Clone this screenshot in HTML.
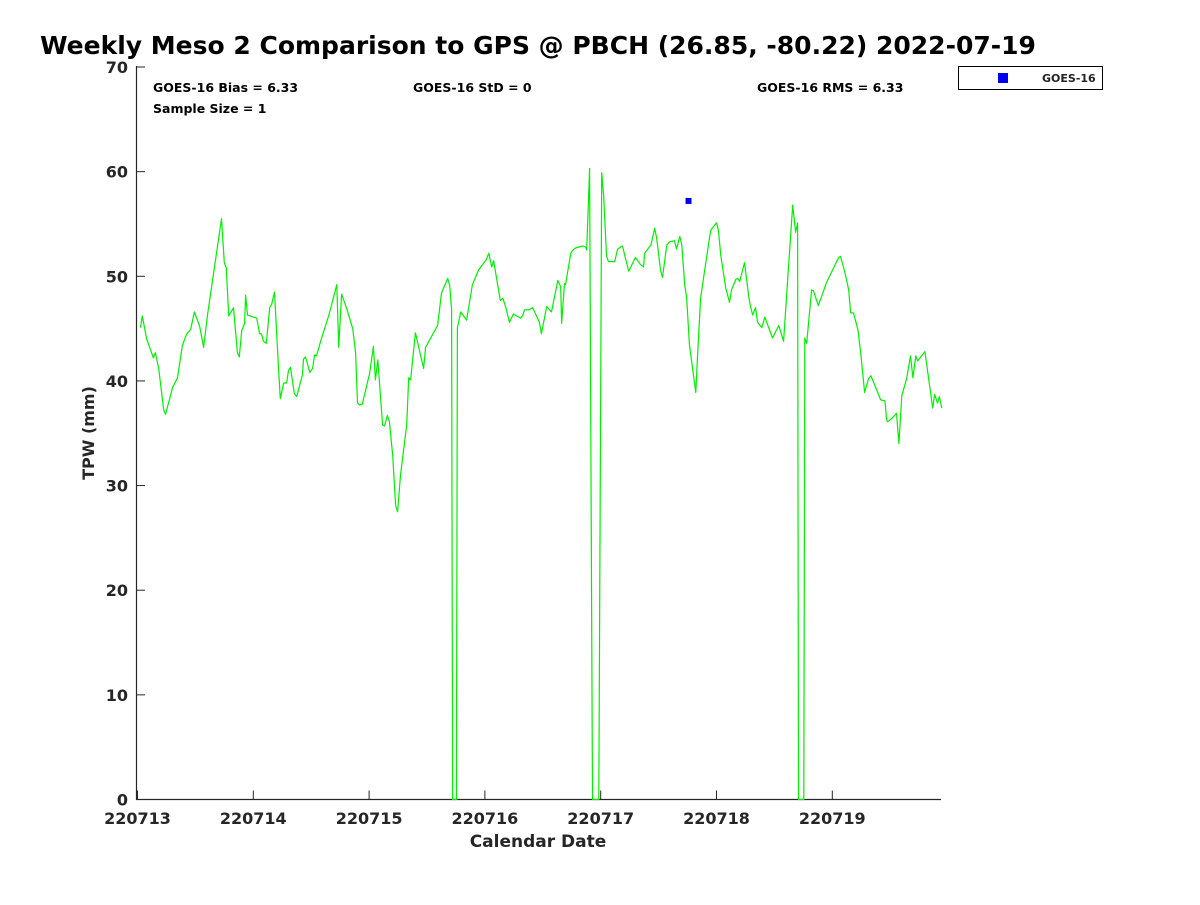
<!DOCTYPE html>
<html><head><meta charset="utf-8"><style>
body{margin:0;background:#fff;width:1200px;height:900px;overflow:hidden}
svg{font-family:"DejaVu Sans","Liberation Sans",sans-serif;font-weight:bold}
</style></head><body>
<svg id="chart" width="1200" height="900" viewBox="0 0 1200 900">
<text x="40" y="54" font-size="25" fill="#000">Weekly Meso 2 Comparison to GPS @ PBCH (26.85, -80.22) 2022-07-19</text>
<g id="axes"></g>
<g id="series"></g>
<text x="153" y="92" font-size="12.5" fill="#000">GOES-16 Bias = 6.33</text>
<text x="413" y="92" font-size="12.5" fill="#000">GOES-16 StD = 0</text>
<text x="757" y="92" font-size="12.5" fill="#000">GOES-16 RMS = 6.33</text>
<text x="153" y="113" font-size="12.5" fill="#000">Sample Size = 1</text>
<g>
<rect x="958.5" y="66.5" width="144" height="23" fill="#fff" stroke="#000" stroke-width="1"/>
<rect x="998" y="73" width="10" height="10" fill="#0000ee"/>
<text x="1042" y="82" font-size="11" fill="#222">GOES-16</text>
</g>
<text x="538" y="847" font-size="17" text-anchor="middle" fill="#262626">Calendar Date</text>
<text transform="translate(94,433) rotate(-90)" font-size="16" text-anchor="middle" fill="#262626">TPW (mm)</text>
</svg>
<script>
const hours=[0.6,1.0,1.9,3.3,3.7,4.4,5.4,5.8,7.3,8.3,9.3,10.2,11.0,11.8,12.9,13.7,14.5,17.4,18.0,18.4,18.9,19.9,20.7,21.1,21.6,22.2,22.4,22.8,24.0,24.7,25.3,25.7,26.1,26.7,27.4,27.8,28.4,29.2,29.6,30.3,30.9,31.3,31.7,32.5,33.0,34.2,34.4,34.8,35.2,35.7,36.3,36.7,37.1,38.1,39.6,41.3,41.7,42.3,43.3,44.6,45.2,45.6,46.0,46.6,48.1,48.9,49.3,49.8,50.8,51.2,51.8,52.2,52.9,53.5,53.9,54.5,55.8,56.2,56.6,57.6,59.3,59.7,60.3,62.2,63.0,64.3,64.7,65.1,65.3,66.1,66.3,67.0,68.2,69.4,70.7,72.3,72.8,73.4,73.8,75.2,75.7,76.3,77.1,77.9,79.4,79.8,80.2,81.1,81.9,83.3,83.7,84.8,85.8,87.1,87.7,87.9,88.5,88.7,89.8,90.2,90.8,92.3,92.9,93.1,93.7,94.3,95.6,96.2,96.6,97.2,97.6,98.9,99.5,100.5,101.8,103.2,104.3,104.9,105.1,106.4,107.2,107.6,108.4,108.8,109.7,110.3,111.3,111.7,112.4,112.8,113.4,113.8,114.4,115.7,116.1,116.7,117.5,118.8,120.0,120.4,120.9,121.9,122.7,123.1,124.0,124.4,124.8,125.8,126.7,127.1,127.5,128.1,128.5,129.4,130.0,131.6,132.9,133.9,134.7,135.8,136.4,136.8,137.0,138.1,138.3,138.7,139.7,140.1,141.1,141.8,142.8,145.3,145.7,146.6,147.4,147.8,148.4,149.3,149.9,150.7,151.5,152.0,153.4,154.0,154.9,155.3,155.5,156.3,157.3,157.8,158.4,159.4,160.2,160.7,161.3,161.7,163.2,164.8,165.2,165.8,166.2,166.7];
const tpw=[45.1,46.2,44.0,42.2,42.7,41.2,37.3,36.8,39.4,40.3,43.4,44.5,44.9,46.6,45.2,43.2,46.3,55.5,51.3,50.8,46.2,47.0,42.7,42.3,44.8,45.5,48.2,46.3,46.1,46.0,44.5,44.5,43.8,43.6,47.0,47.3,48.5,41.4,38.3,39.8,39.8,41.0,41.3,38.8,38.5,40.6,42.1,42.3,41.7,40.8,41.2,42.5,42.4,44.0,46.2,49.2,43.2,48.3,47.0,45.0,42.7,37.9,37.7,37.8,40.7,43.3,40.1,42.0,35.8,35.7,36.7,36.1,32.9,28.1,27.5,31.0,35.8,40.3,40.1,44.6,41.2,43.2,43.7,45.3,48.4,49.8,49.1,46.8,0,0,45.1,46.6,45.8,49.2,50.6,51.6,52.2,50.9,51.5,47.7,47.9,47.1,45.6,46.4,46.0,46.2,46.8,46.8,47.0,45.6,44.5,47.1,46.6,49.6,49.0,45.5,49.3,49.2,52.2,52.5,52.7,52.9,52.8,52.5,60.3,0,0,59.9,57.8,52.0,51.4,51.4,52.6,52.9,50.5,51.8,51.1,50.9,52.2,53.0,54.6,53.6,50.6,49.9,53.0,53.3,53.4,52.6,53.8,53.0,49.2,48.0,43.4,38.9,42.7,47.9,50.4,54.4,55.1,54.4,52.0,48.9,47.5,48.7,49.7,49.8,49.5,51.3,48.0,47.0,46.3,47.0,45.6,45.1,46.1,44.1,45.3,43.8,49.3,56.8,54.2,55.1,0,0,44.1,43.6,48.7,48.6,47.2,48.1,49.4,51.8,51.9,50.4,48.7,46.5,46.5,44.9,42.6,38.9,40.2,40.5,38.9,38.2,38.1,36.2,36.1,36.4,36.9,34.0,38.6,40.2,42.4,40.3,42.4,41.9,42.8,37.4,38.7,37.9,38.5,37.4];
const goesHours=[114.2];
const goesTpw=[57.2];
const yTicks=[0,10,20,30,40,50,60,70];
const xTickDays=[0,1,2,3,4,5,6];
const xTickLabels=["220713","220714","220715","220716","220717","220718","220719"];

const L=137.5,R=941,T=67,B=799.5,pxPerDay=115.8;
const xs=h=>L+h/24*pxPerDay;
const ys=v=>B-(v/70)*(B-T);
const NS="http://www.w3.org/2000/svg";
function mk(tag,attrs,parent){const e=document.createElementNS(NS,tag);for(const k in attrs)e.setAttribute(k,attrs[k]);parent.appendChild(e);return e;}
const ax=document.getElementById('axes');
const ser=document.getElementById('series');
let a=mk('line',{x1:136.5,y1:T-1,x2:136.5,y2:B+0.5,stroke:'#262626','stroke-width':1.2},ax);


a=mk('line',{x1:136,y1:B,x2:R,y2:B,stroke:'#262626','stroke-width':1.2},ax);


yTicks.forEach(v=>{
  const y=ys(v);
  const t=mk('line',{x1:137,y1:y,x2:145,y2:y,stroke:'#262626','stroke-width':1},ax);
  
  
  const tx=mk('text',{x:128,y:y+6,'font-size':16,'text-anchor':'end',fill:'#262626'},ax);
  tx.textContent=v;
  
  
});
xTickDays.forEach((d,i)=>{
  const x=xs(d*24);
  const t=mk('line',{x1:x,y1:B,x2:x,y2:B-9,stroke:'#262626','stroke-width':1},ax);
  
  
  const tx=mk('text',{x:x,y:824,'font-size':16,'text-anchor':'middle',fill:'#262626'},ax);
  tx.textContent=xTickLabels[i];
  
  
});
const pts=hours.map((h,i)=>xs(h).toFixed(1)+','+ys(tpw[i]).toFixed(1)).join(' ');
const pl=mk('polyline',{points:pts,fill:'none',stroke:'#00ee00','stroke-width':1.2,'stroke-linejoin':'round'},ser);


goesHours.forEach((h,i)=>{
  const r=mk('rect',{x:xs(h)-3,y:ys(goesTpw[i])-3,width:6,height:6,fill:'#0000ee'},ser);
  
  
});
</script>
</body></html>
